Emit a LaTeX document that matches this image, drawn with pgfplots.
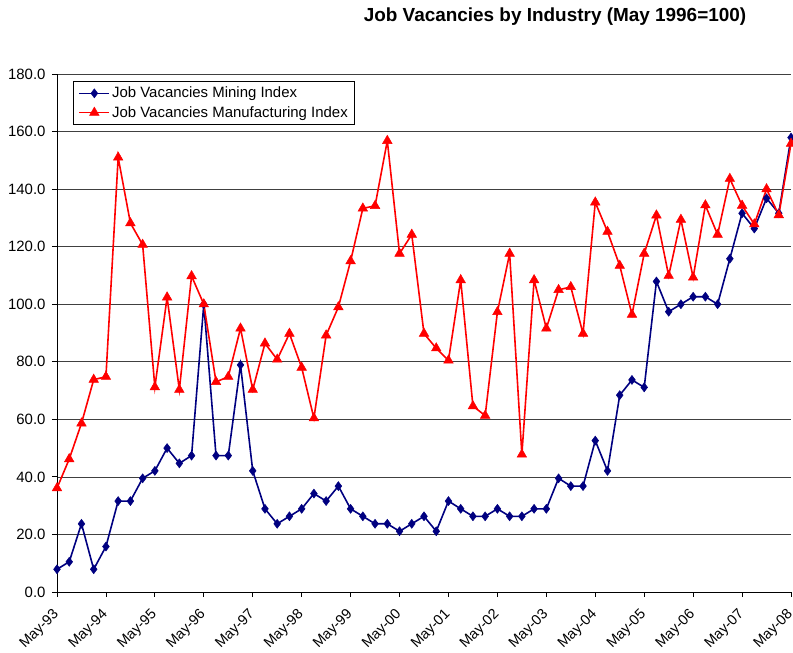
\documentclass[border=0pt]{standalone}
\usepackage{pgfplots}
\pgfplotsset{compat=1.18}
\usepackage{pgfplotstable}
\usepackage{fontspec}
\setmainfont{Liberation Sans}

\definecolor{mining}{RGB}{0,0,128}
\definecolor{manuf}{RGB}{255,0,0}

% quarter index (0 = May-93), mining index, manufacturing index
\pgfplotstableread{
q  mining manuf
0  7.9    36.1
1  10.5   46.2
2  23.7   58.6
3  7.9    73.8
4  15.8   74.8
5  31.6   151.0
6  31.6   128.2
7  39.5   120.7
8  42.1   71.2
9  50.0   102.4
10 44.7   70.3
11 47.4   109.8
12 100.0  100.0
13 47.4   73.0
14 47.4   74.8
15 78.9   91.6
16 42.1   70.3
17 28.9   86.4
18 23.7   80.8
19 26.3   89.8
20 28.9   78.0
21 34.2   60.4
22 31.6   89.2
23 36.8   99.0
24 28.9   115.0
25 26.3   133.3
26 23.7   134.2
27 23.7   156.8
28 21.1   117.6
29 23.7   124.2
30 26.3   89.8
31 21.1   84.7
32 31.6   80.5
33 28.9   108.4
34 26.3   64.6
35 26.3   61.3
36 28.9   97.3
37 26.3   117.6
38 26.3   47.8
39 28.9   108.4
40 28.9   91.6
41 39.5   105.0
42 36.8   106.0
43 36.8   89.8
44 52.6   135.4
45 42.1   125.2
46 68.4   113.4
47 73.7   96.4
48 71.1   117.6
49 107.9  130.9
50 97.4   109.9
51 100.0  129.4
52 102.6  109.3
53 102.6  134.4
54 100.0  124.2
55 115.8  143.6
56 131.6  134.3
57 126.3  127.8
58 136.8  140.0
59 131.6  131.0
60 157.9  155.8
}\vacancies

\begin{document}
\begin{tikzpicture}
\useasboundingbox (0,0) rectangle (793bp,653bp);
\node[font=\bfseries\fontsize{19}{21}\selectfont] at (555bp,636bp) {Job Vacancies by Industry (May 1996=100)};
\begin{axis}[
  at={(57bp,61bp)}, anchor=south west,
  scale only axis, width=734bp, height=518bp,
  xmin=0, xmax=60, ymin=0, ymax=180,
  axis x line*=bottom, axis y line*=left,
  axis line style={black, line width=0.8bp},
  xtick={0,4,...,60},
  xticklabels={May-93,May-94,May-95,May-96,May-97,May-98,May-99,May-00,May-01,May-02,May-03,May-04,May-05,May-06,May-07,May-08},
  ytick={0,20,...,180},
  tick align=outside, major tick length=5bp,
  tick style={black, line width=0.8bp},
  ymajorgrids, major grid style={black!75, line width=0.7bp},
  yticklabel style={xshift=-3bp, /pgf/number format/.cd, fixed, fixed zerofill, precision=1, assume math mode=true},
  ticklabel style={font=\fontsize{15}{17}\selectfont},
  xticklabel style={xshift=-5bp, yshift=-9bp, rotate=45, anchor=north east, inner sep=1bp, font=\fontsize{14.5}{16}\selectfont},
  legend style={at={(0.022,0.986)}, anchor=north west, draw=black, line width=0.8bp,
    font=\fontsize{15}{17}\selectfont, row sep=3bp, inner xsep=5bp, inner ysep=3.5bp},
  legend cell align=left,
  legend image code/.code={\draw[mark repeat=2,mark phase=2,#1] plot coordinates {(0bp,0bp)(15bp,0bp)(30bp,0bp)};},
]
\addplot[mining, line width=1.6bp, mark=diamond*, mark size=4.5bp, mark options={fill=mining, line width=0.5bp}]
  table[x=q, y=mining] {\vacancies};
\addlegendentry{Job Vacancies Mining Index}
\addplot[manuf, line width=1.6bp, mark=triangle*, mark size=5.5bp, mark options={fill=manuf, line width=0.5bp}]
  table[x=q, y=manuf] {\vacancies};
\addlegendentry{Job Vacancies Manufacturing Index}
\end{axis}
\end{tikzpicture}
\end{document}
